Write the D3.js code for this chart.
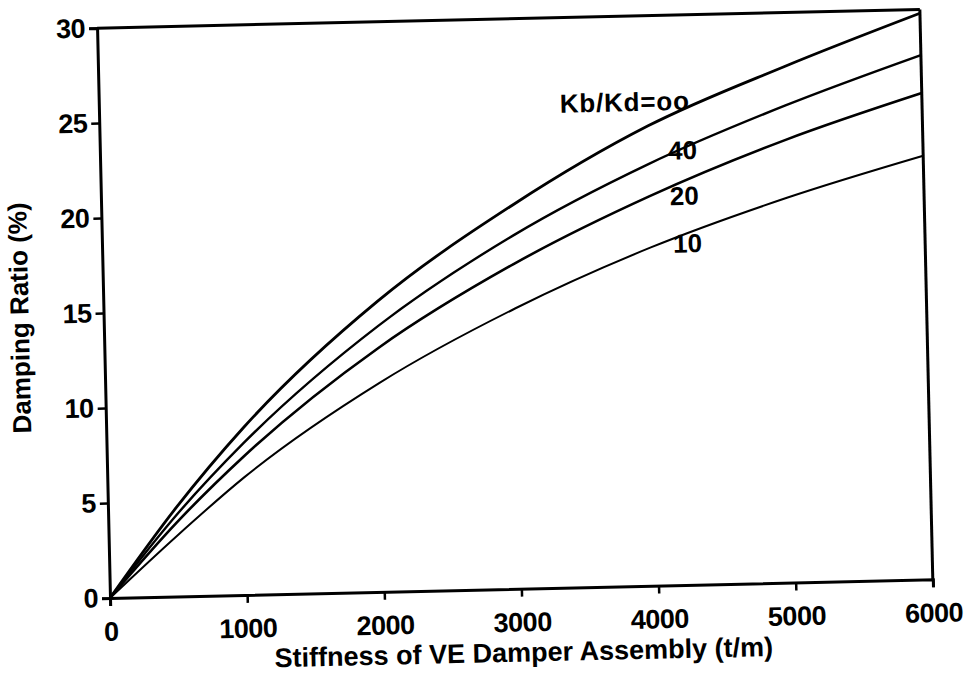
<!DOCTYPE html>
<html>
<head>
<meta charset="utf-8">
<script src="https://cdn.jsdelivr.net/npm/d3@7"></script>
<style>
  html, body { margin: 0; padding: 0; background: #fff; }
  svg { display: block; }
  text { font-family: "Liberation Sans", Arial, Helvetica, sans-serif; fill: #000; }
</style>
</head>
<body>
<svg id="chart" width="971" height="675"></svg>
<script>
// ---- data ----
const stiffness = [0, 500, 1000, 2000, 3000, 4000, 5000, 6000];          // t/m
const seriesNames = ["oo", "40", "20", "10"];                              // Kb/Kd
const dampInf = [0, 4.7, 8.8, 15.3, 20.2, 24.2, 27.15, 29.8];
const damp40  = [0, 4.3, 8.0, 14.0, 18.6, 22.2, 25.1, 27.6];
const damp20  = [0, 3.9, 7.3, 12.85, 17.1, 20.5, 23.3, 25.6];
const damp10  = [0, 3.2, 6.2, 11.0, 14.75, 17.8, 20.25, 22.3];
const xTicks = [0, 1000, 2000, 3000, 4000, 5000, 6000];
const yTicks = [0, 5, 10, 15, 20, 25, 30];
const labelText = ["Kb/Kd=oo", "40", "20", "10"];
const labelX = [3360, 4141, 4147, 4162];
const labelY = [25.0, 22.4, 20.0, 17.5];

const W = 823, H = 570;
const svg = d3.select("#chart");
const g = svg.append("g").attr("transform", "translate(110,598) rotate(-1.3)");

const x = d3.scaleLinear().domain([0, 6000]).range([0, W]);
const y = d3.scaleLinear().domain([0, 30]).range([0, -H]);

// axes
const xAxis = g.append("g")
  .call(d3.axisBottom(x).tickValues(xTicks).tickSize(8).tickPadding(10).tickFormat(d3.format("d")));
const yAxis = g.append("g")
  .call(d3.axisLeft(y).tickValues(yTicks).tickSize(8).tickPadding(4).tickFormat(d3.format("d")));
[xAxis, yAxis].forEach(a => {
  a.select(".domain").attr("stroke", "#000").attr("stroke-width", 3);
  a.selectAll(".tick line").attr("stroke", "#000").attr("stroke-width", 2.5);
  a.selectAll(".tick text").attr("font-size", 27).attr("font-weight", "bold")
    .attr("font-family", "Liberation Sans, Arial, sans-serif")
    .attr("letter-spacing", -0.5).attr("fill", "#000");
});
xAxis.selectAll(".tick text").attr("dy", "0.92em");

// top and right frame
g.append("line").attr("x1", x(0)).attr("x2", x(6000)).attr("y1", y(30)).attr("y2", y(30))
  .attr("stroke", "#000").attr("stroke-width", 3);
g.append("line").attr("x1", x(6000)).attr("x2", x(6000)).attr("y1", y(30)).attr("y2", y(0))
  .attr("stroke", "#000").attr("stroke-width", 3);

// curves
const series = [dampInf, damp40, damp20, damp10];
const widths = [2.8, 2.4, 2.6, 2.0];
const line = d3.line().x(d => x(d[0])).y(d => y(d[1])).curve(d3.curveMonotoneX);
series.forEach((s, i) => {
  g.append("path")
    .datum(stiffness.map((k, j) => [k, s[j]]))
    .attr("d", line)
    .attr("fill", "none")
    .attr("stroke", "#000")
    .attr("stroke-width", widths[i]);
});

// curve labels
labelText.forEach((t, i) => {
  g.append("text").attr("x", x(labelX[i])).attr("y", y(labelY[i]))
    .attr("font-size", 26).attr("font-weight", "bold")
    .attr("letter-spacing", i === 0 ? 0.8 : 0).text(t);
});

// axis titles
g.append("text").attr("x", W / 2 + 1).attr("y", 73)
  .attr("text-anchor", "middle").attr("font-size", 27).attr("font-weight", "bold")
  .text("Stiffness of VE Damper Assembly (t/m)");
g.append("text").attr("transform", "translate(-75," + (-282) + ") rotate(-90)")
  .attr("text-anchor", "middle").attr("font-size", 26).attr("font-weight", "bold")
  .text("Damping Ratio (%)");
</script>
</body>
</html>
